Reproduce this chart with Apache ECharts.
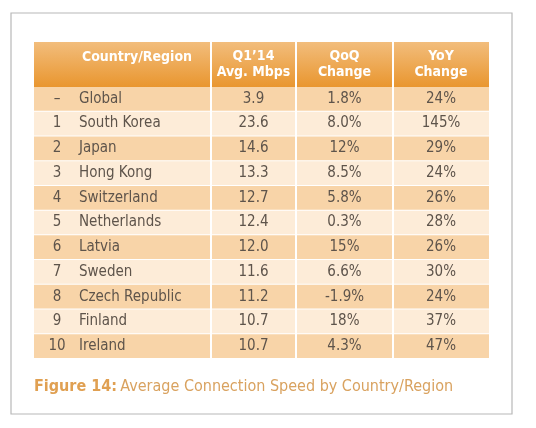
<!DOCTYPE html>
<html><head><meta charset="utf-8">
<script src="https://cdn.jsdelivr.net/npm/echarts@6/dist/echarts.min.js"></script>
<style>html,body{margin:0;padding:0;background:#fff}#c{width:536px;height:428px}</style>
</head><body><div id="c"></div>
<script>
var ranks = ['–','1','2','3','4','5','6','7','8','9','10'];
var countries = ['Global','South Korea','Japan','Hong Kong','Switzerland','Netherlands','Latvia','Sweden','Czech Republic','Finland','Ireland'];
var avgMbps = ['3.9','23.6','14.6','13.3','12.7','12.4','12.0','11.6','11.2','10.7','10.7'];
var qoq = ['1.8%','8.0%','12%','8.5%','5.8%','0.3%','15%','6.6%','-1.9%','18%','4.3%'];
var yoy = ['24%','145%','29%','24%','26%','28%','26%','30%','24%','37%','47%'];
var headers = ['Country/Region','Q1’14\nAvg. Mbps','QoQ\nChange','YoY\nChange'];

var FONT = '"Liberation Sans Narrow","DejaVu Sans Condensed","Roboto",sans-serif';
var colEdges = [0,177,262,359,455];
var TC = '#5e544b';
var chart = echarts.init(document.getElementById('c'));
var data = countries.map(function(c,i){return [0, i];});

var headerG = [];
var hx = [34,211,296,393,489];
for (var k=0;k<4;k++){
  headerG.push({type:'rect',shape:{x:hx[k]+(k?1:0),y:42,width:hx[k+1]-hx[k]-(k?1:0)-(k<3?1:0),height:45},
    style:{fill:new echarts.graphic.LinearGradient(0,0,0,1,[{offset:0,color:'#f2bd7c'},{offset:1,color:'#e9962f'}])}});
  headerG.push({type:'text',x:k===0?137:(hx[k]+hx[k+1])/2,y:k===0?57:64,
    style:{text:headers[k],fill:'#fff',font:'bold 14px '+FONT,align:'center',verticalAlign:'middle',lineHeight:16}});
}

chart.setOption({
  animation:false,
  graphic:[{type:'rect',shape:{x:11,y:13,width:501,height:401},style:{fill:'none',stroke:'#b8b8b8',lineWidth:1.2}}]
    .concat(headerG).concat([
    {type:'text',x:34,y:387,style:{text:'{b|Figure 14:} {n|Average Connection Speed by Country/Region}',
      verticalAlign:'middle',rich:{b:{fontFamily:FONT,fontSize:16,fontWeight:'bold',fill:'#e0a052'},n:{fontFamily:FONT,fontSize:16,fill:'#d9a25f'}}}}
  ]),
  grid:{left:34,right:47,top:87,bottom:69},
  xAxis:{type:'value',min:0,max:455,show:false},
  yAxis:{type:'category',data:countries,inverse:true,show:false},
  series:[{type:'custom',data:data,encode:{x:0,y:1},renderItem:function(params,api){
    var i=params.dataIndex;
    var p=api.coord([0,i]); var h=api.size([0,1])[1];
    var y0=p[1]-h/2;
    var fill=(i%2===0)?'#f8d4a8':'#fdecd8';
    var ch=[];
    for(var k=0;k<4;k++){
      var x1=api.coord([colEdges[k],i])[0], x2=api.coord([colEdges[k+1],i])[0];
      ch.push({type:'rect',shape:{x:x1+(k?1:0),y:y0,width:x2-x1-(k?1:0)-(k<3?1:0),height:h-1},style:{fill:fill}});
    }
    var yc=p[1]-0.5;
    var t=function(x,s,al){return {type:'text',x:x,y:yc,style:{text:s,fill:TC,font:'15px '+FONT,align:al,verticalAlign:'middle'}};};
    ch.push(t(api.coord([23,i])[0],ranks[i],'center'));
    ch.push(t(api.coord([45,i])[0],countries[i],'left'));
    ch.push(t(api.coord([219.5,i])[0],avgMbps[i],'center'));
    ch.push(t(api.coord([310.5,i])[0],qoq[i],'center'));
    ch.push(t(api.coord([407,i])[0],yoy[i],'center'));
    return {type:'group',children:ch};
  }}]
});
</script></body></html>
